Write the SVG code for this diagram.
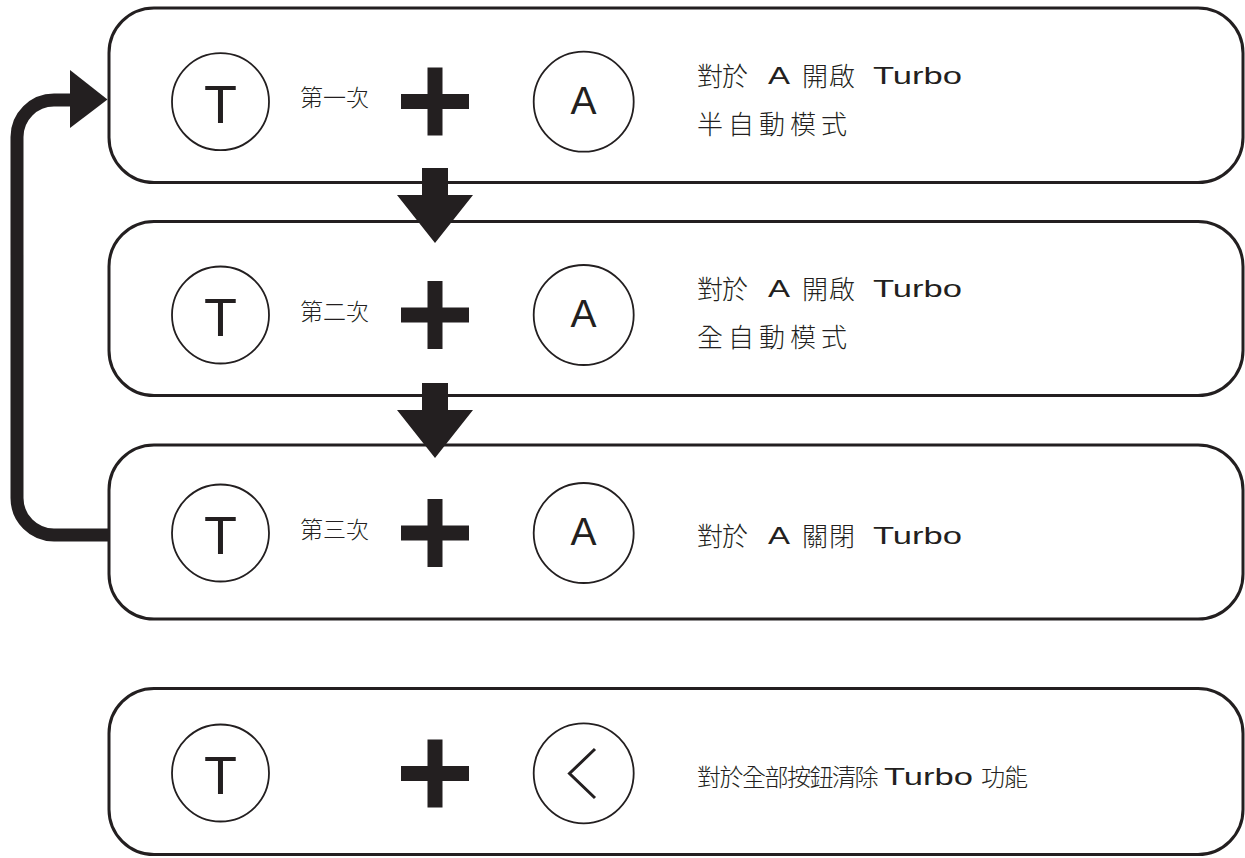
<svg xmlns="http://www.w3.org/2000/svg" width="1245" height="858" viewBox="0 0 1245 858">
<style>
.box{fill:#fff;stroke:#231f20;stroke-width:3}
.circ{fill:none;stroke:#231f20;stroke-width:1.8}
.fill{fill:#231f20}
.big{font-family:"Liberation Sans",Arial,sans-serif;fill:#231f20;text-anchor:middle}
.cjk{font-family:"Noto Sans CJK TC","Noto Sans CJK SC",sans-serif;font-size:26px;fill:#231f20;font-weight:300}
.cjk4{font-family:"Noto Sans CJK TC","Noto Sans CJK SC",sans-serif;font-size:24px;fill:#231f20;font-weight:300}
.small{font-family:"Noto Sans CJK TC","Noto Sans CJK SC",sans-serif;font-size:23px;fill:#231f20;font-weight:300}
.lat{font-family:"Liberation Sans",Arial,sans-serif;font-size:24px;fill:#231f20}
.conn{fill:none;stroke:#231f20;stroke-width:13}
</style>
<defs>
<path id="plus" d="M-7.5,-34 H7.5 V-7.5 H34 V7.5 H7.5 V34 H-7.5 V7.5 H-34 V-7.5 H-7.5 Z"/>
</defs>
<g id="box1">
<rect class="box" x="109" y="8" width="1134" height="174.5" rx="45"/>
<circle class="circ" cx="220.5" cy="101.7" r="48.5"/>
<text class="big" x="220.5" y="122.7" font-size="54">T</text>
<text class="small" x="300" y="106">第一次</text>
<use href="#plus" class="fill" x="435" y="101.5"/>
<circle class="circ" cx="583.7" cy="101.7" r="50"/>
<text class="big" x="583.5" y="114" font-size="39">A</text>
<text class="cjk" x="697 722" y="86">對於</text>
<text class="lat" x="768" y="84" textLength="22" lengthAdjust="spacingAndGlyphs">A</text>
<text class="cjk" x="802 829" y="86">開啟</text>
<text class="lat" x="873" y="84" textLength="89" lengthAdjust="spacingAndGlyphs">Turbo</text>
<text class="cjk" x="697 728 759 790 821" y="134">半自動模式</text>
</g>
<g id="box2">
<rect class="box" x="109" y="221.5" width="1134" height="174" rx="45"/>
<circle class="circ" cx="220.5" cy="315" r="48.5"/>
<text class="big" x="220.5" y="336" font-size="54">T</text>
<text class="small" x="300" y="319.5">第二次</text>
<use href="#plus" class="fill" x="435" y="315"/>
<circle class="circ" cx="583.7" cy="315" r="50"/>
<text class="big" x="583.5" y="327.3" font-size="39">A</text>
<text class="cjk" x="697 722" y="299">對於</text>
<text class="lat" x="768" y="297" textLength="22" lengthAdjust="spacingAndGlyphs">A</text>
<text class="cjk" x="802 829" y="299">開啟</text>
<text class="lat" x="873" y="297" textLength="89" lengthAdjust="spacingAndGlyphs">Turbo</text>
<text class="cjk" x="697 728 759 790 821" y="347">全自動模式</text>
</g>
<g id="box3">
<rect class="box" x="109" y="445" width="1134" height="174" rx="45"/>
<circle class="circ" cx="220.5" cy="533" r="48.5"/>
<text class="big" x="220.5" y="554" font-size="54">T</text>
<text class="small" x="300" y="537.5">第三次</text>
<use href="#plus" class="fill" x="435" y="533"/>
<circle class="circ" cx="583.7" cy="533" r="50"/>
<text class="big" x="583.5" y="545.3" font-size="39">A</text>
<text class="cjk" x="697 722" y="546">對於</text>
<text class="lat" x="768" y="544" textLength="22" lengthAdjust="spacingAndGlyphs">A</text>
<text class="cjk" x="802 829" y="546">關閉</text>
<text class="lat" x="873" y="544" textLength="89" lengthAdjust="spacingAndGlyphs">Turbo</text>
</g>
<g id="box4">
<rect class="box" x="109" y="688.5" width="1134" height="166" rx="45"/>
<circle class="circ" cx="220.5" cy="773" r="48.5"/>
<text class="big" x="220.5" y="794" font-size="54">T</text>
<use href="#plus" class="fill" x="435" y="773.5"/>
<circle class="circ" cx="583.7" cy="773.3" r="50"/>
<polyline points="595,749 569.5,773.5 595,798" fill="none" stroke="#231f20" stroke-width="3"/>
<text class="cjk4" y="786" x="697 719.5 742 764.5 787 809.5 832 854.5">對於全部按鈕清除</text>
<text class="lat" x="884" y="785" textLength="89" lengthAdjust="spacingAndGlyphs">Turbo</text>
<text class="cjk4" y="786" x="981 1004">功能</text>
</g>
<g id="connectors">
<path class="conn" d="M109,535 H54 A37,37 0 0 1 17,498 V137 A37,37 0 0 1 54,100 H72"/>
<polygon class="fill" points="70,70 107.5,99.5 70,128"/>
<polygon class="fill" points="422,168 448,168 448,195 473,195 435,243 397,195 422,195"/>
<polygon class="fill" points="422,383 448,383 448,410 473,410 435,458 397,410 422,410"/>
</g>
</svg>
